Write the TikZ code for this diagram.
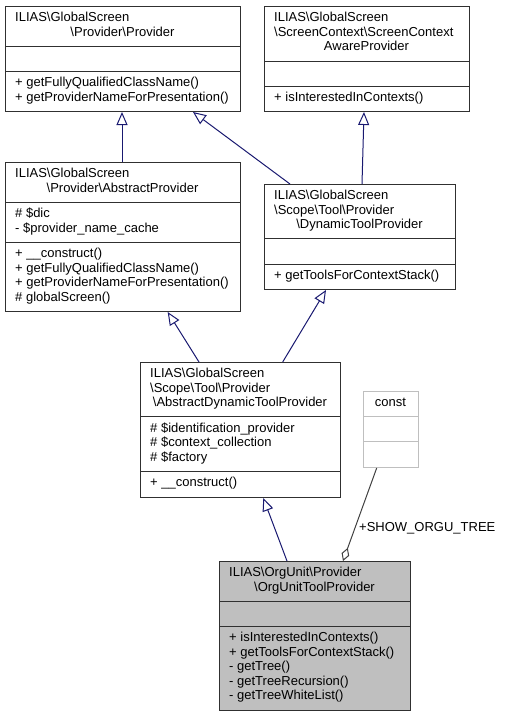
\documentclass[tikz,border=0pt]{standalone}
\usepackage{fontspec}
\setmainfont{Liberation Sans}
\usetikzlibrary{arrows.meta}
\definecolor{edgeblue}{HTML}{191970}
\definecolor{boxgray}{HTML}{BFBFBF}
\definecolor{aggcol}{HTML}{404040}
\definecolor{linecol}{HTML}{303030}
\tikzset{
  classbox/.style={draw=linecol, line width=1pt, fill=white, inner sep=0pt, anchor=north west},
  sep/.style={draw=linecol, line width=1pt},
  txt/.style={inner sep=0pt, anchor=base west, font=\fontsize{13pt}{14.5pt}\selectfont},
  ctxt/.style={inner sep=0pt, anchor=base, font=\fontsize{13pt}{14.5pt}\selectfont},
  inh/.style={draw=edgeblue, line width=1pt, -{Triangle[open, length=13pt, width=11pt]}},
  agg/.style={draw=aggcol, line width=1pt, -{Diamond[open, length=14pt, width=8pt]}},
}
\newcommand{\bs}{\textbackslash}
\begin{document}
\begin{tikzpicture}[x=1pt,y=-1pt]
\useasboundingbox (0,0) rectangle (505,716);

% A: Provider
\node[classbox, minimum width=235pt, minimum height=105pt] (A) at (5,6) {};
\draw[sep] ([yshift=-40pt]A.north west) -- ([yshift=-40pt]A.north east);
\draw[sep] ([yshift=-65pt]A.north west) -- ([yshift=-65pt]A.north east);
\node[txt] (A1) at (15,21.5) {ILIAS\bs GlobalScreen};
\node[ctxt] (A2) at (122.5,36) {\bs Provider\bs Provider};
\node[txt] (A3) at (15,86.5) {+ getFullyQualifiedClassName()};
\node[txt] (A4) at (15,101) {+ getProviderNameForPresentation()};

% B: ScreenContextAwareProvider
\node[classbox, minimum width=205pt, minimum height=105pt] (B) at (264,6) {};
\draw[sep] ([yshift=-55pt]B.north west) -- ([yshift=-55pt]B.north east);
\draw[sep] ([yshift=-80pt]B.north west) -- ([yshift=-80pt]B.north east);
\node[txt] (B1) at (274,21.5) {ILIAS\bs GlobalScreen};
\node[txt] (B2) at (274,36) {\bs ScreenContext\bs ScreenContext};
\node[ctxt] (B3) at (366.5,50.5) {AwareProvider};
\node[txt] (B4) at (274,101.5) {+ isInterestedInContexts()};

% C: AbstractProvider
\node[classbox, minimum width=235pt, minimum height=149pt] (C) at (5,162) {};
\draw[sep] ([yshift=-40pt]C.north west) -- ([yshift=-40pt]C.north east);
\draw[sep] ([yshift=-80pt]C.north west) -- ([yshift=-80pt]C.north east);
\node[txt] (C1) at (15,177.5) {ILIAS\bs GlobalScreen};
\node[ctxt] (C2) at (122.5,192) {\bs Provider\bs AbstractProvider};
\node[txt] (C3) at (15,217.5) {\# \$dic};
\node[txt] (C4) at (15,232) {- \$provider\_name\_cache};
\node[txt] (C5) at (15,257.5) {+ \_\_construct()};
\node[txt] (C6) at (15,272) {+ getFullyQualifiedClassName()};
\node[txt] (C7) at (15,286.5) {+ getProviderNameForPresentation()};
\node[txt] (C8) at (15,301) {\# globalScreen()};

% D: DynamicToolProvider
\node[classbox, minimum width=191pt, minimum height=105pt] (D) at (264,184) {};
\draw[sep] ([yshift=-54.5pt]D.north west) -- ([yshift=-54.5pt]D.north east);
\draw[sep] ([yshift=-80pt]D.north west) -- ([yshift=-80pt]D.north east);
\node[txt] (D1) at (274,199.5) {ILIAS\bs GlobalScreen};
\node[txt] (D2) at (274,214) {\bs Scope\bs Tool\bs Provider};
\node[ctxt] (D3) at (359.5,228.5) {\bs DynamicToolProvider};
\node[txt] (D4) at (274,279.5) {+ getToolsForContextStack()};

% E: AbstractDynamicToolProvider
\node[classbox, minimum width=200pt, minimum height=135pt] (E) at (140,362) {};
\draw[sep] ([yshift=-54.5pt]E.north west) -- ([yshift=-54.5pt]E.north east);
\draw[sep] ([yshift=-109.5pt]E.north west) -- ([yshift=-109.5pt]E.north east);
\node[txt] (E1) at (150,377.5) {ILIAS\bs GlobalScreen};
\node[txt] (E2) at (150,392) {\bs Scope\bs Tool\bs Provider};
\node[ctxt] (E3) at (240,406.5) {\bs AbstractDynamicToolProvider};
\node[txt] (E4) at (150,432) {\# \$identification\_provider};
\node[txt] (E5) at (150,446.5) {\# \$context\_collection};
\node[txt] (E6) at (150,461) {\# \$factory};
\node[txt] (E7) at (150,486.5) {+ \_\_construct()};

% const
\node[draw=boxgray, line width=1pt, fill=white, inner sep=0pt, anchor=north west, minimum width=55pt, minimum height=76pt] (K) at (363,391) {};
\draw[draw=boxgray, line width=1pt] ([yshift=-25pt]K.north west) -- ([yshift=-25pt]K.north east);
\draw[draw=boxgray, line width=1pt] ([yshift=-50.5pt]K.north west) -- ([yshift=-50.5pt]K.north east);
\node[ctxt] (K1) at (390.5,406) {const};

% F: OrgUnitToolProvider
\node[classbox, fill=boxgray, minimum width=191pt, minimum height=149pt] (F) at (219,561) {};
\draw[sep] ([yshift=-40pt]F.north west) -- ([yshift=-40pt]F.north east);
\draw[sep] ([yshift=-65pt]F.north west) -- ([yshift=-65pt]F.north east);
\node[txt] (F1) at (229,576.5) {ILIAS\bs OrgUnit\bs Provider};
\node[ctxt] (F2) at (314.5,591) {\bs OrgUnitToolProvider};
\node[txt] (F3) at (229,641.5) {+ isInterestedInContexts()};
\node[txt] (F4) at (229,656) {+ getToolsForContextStack()};
\node[txt] (F5) at (229,670.5) {- getTree()};
\node[txt] (F6) at (229,685) {- getTreeRecursion()};
\node[txt] (F7) at (229,699.5) {- getTreeWhiteList()};

% inheritance edges
\draw[inh] ([xshift=117pt]C.north west) -- ([xshift=117pt]A.south west);
\draw[inh] ([xshift=26pt]D.north west) -- ([xshift=188pt]A.south west);
\draw[inh] ([xshift=98pt]D.north west) -- ([xshift=100pt]B.south west);
\draw[inh] ([xshift=59pt]E.north west) -- ([xshift=162.7pt]C.south west);
\draw[inh] ([xshift=142.7pt]E.north west) -- ([xshift=62pt]D.south west);
\draw[inh] ([xshift=68pt]F.north west) -- ([xshift=123.3pt]E.south west);

% aggregation
\draw[agg] ([xshift=13.7pt]K.south west) -- ([xshift=124pt]F.north west);
\node[txt] (L) at (359,531) {+SHOW\_ORGU\_TREE};
\end{tikzpicture}
\end{document}
